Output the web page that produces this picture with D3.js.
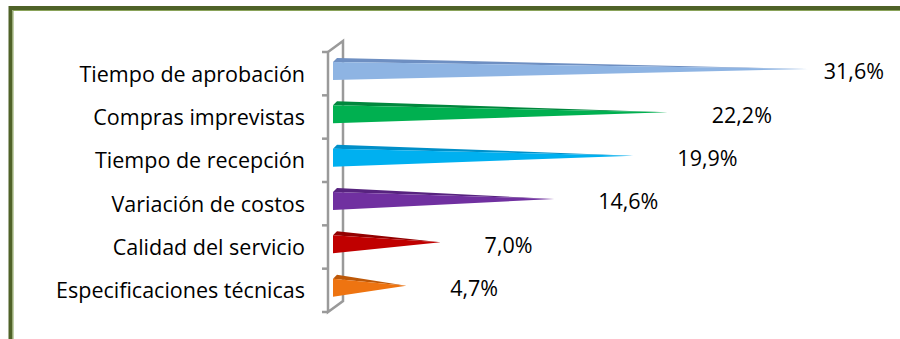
<!DOCTYPE html>
<html>
<head>
<meta charset="utf-8">
<script src="https://cdn.jsdelivr.net/npm/d3@7"></script>
<style>
  html, body { margin: 0; padding: 0; background: #fff; }
  svg { display: block; }
  text { font-family: "Open Sans", "Noto Sans", sans-serif; fill: #000; }
</style>
</head>
<body>
<svg id="chart" width="900" height="339"></svg>
<script>
// Categories, top to bottom
const categories = [
  "Tiempo de aprobación",
  "Compras imprevistas",
  "Tiempo de recepción",
  "Variación de costos",
  "Calidad del servicio",
  "Especificaciones técnicas"
];
// Share of each cause, in percent
const values = [31.6, 22.2, 19.9, 14.6, 7.0, 4.7];

// Palette: front face and darker top face of each pyramid
const frontColors = ["#8eb4e3", "#00b050", "#00b0f0", "#7030a0", "#c00000", "#ee7411"];
const topColors   = ["#6e8fc2", "#00873d", "#008fc8", "#57237f", "#930000", "#bd5808"];

const svg = d3.select("#chart");
const fontSize = 21.5;

// Outer frame (only left and top edges fall inside the view)
svg.append("rect").attr("x", 10.5).attr("y", 8).attr("width", 900).attr("height", 400)
  .attr("fill", "none").attr("stroke", "#4f6228").attr("stroke-width", 4);
svg.append("path").attr("d", "M13,339 V10.5 H900")
  .attr("fill", "none").attr("stroke", "#8aa35a").attr("stroke-width", 1);

// Scales
const y = d3.scaleBand().domain(categories).range([52, 312]).padding(0);
const x = d3.scaleLinear().domain([0, 35]).range([336, 859]);

// Depth offset of the 3D wall
const wallDx = 15, wallDy = -11;
const frontX = 328;
const axisColor = "#9a9a9a";

// Back and front edges of the side wall
const g = svg.append("g");
const yTop = y.range()[0], yBot = y.range()[1];
g.append("path")
  .attr("d", `M${frontX},${yTop} L${frontX + wallDx},${yTop + wallDy} V${yBot + wallDy} L${frontX},${yBot} Z`)
  .attr("fill", "none").attr("stroke", axisColor).attr("stroke-width", 2.5)
  .attr("stroke-linejoin", "miter");

// Ticks at category boundaries
const tickPos = categories.map(c => y(c)).concat([yBot]);
g.selectAll("line.tick").data(tickPos).enter().append("line")
  .attr("class", "tick")
  .attr("x1", frontX - 6).attr("x2", frontX)
  .attr("y1", d => d).attr("y2", d => d)
  .attr("stroke", axisColor).attr("stroke-width", 2.5);

// Category labels
svg.selectAll("text.cat").data(categories).enter().append("text")
  .attr("class", "cat")
  .attr("x", 305)
  .attr("y", d => y(d) + y.bandwidth() / 2 + 8)
  .attr("text-anchor", "end")
  .attr("font-size", fontSize)
  .text(d => d);

// Pyramids: front triangle plus thin top triangle
const data = categories.map((c, i) => ({ c, v: values[i], i }));
const baseX = 333, faceTop = 10, faceH = 18, dep = 4;

const bars = svg.selectAll("g.bar").data(data).enter().append("g").attr("class", "bar");
bars.append("path")
  .attr("d", d => {
    const t = y(d.c) + faceTop;
    const ax = x(d.v), ay = t + faceH / 2 - 2;
    return `M${baseX},${t} L${baseX + dep},${t - dep} L${ax},${ay} Z`;
  })
  .attr("fill", d => topColors[d.i]);
bars.append("path")
  .attr("d", d => {
    const t = y(d.c) + faceTop, b = t + faceH;
    const ax = x(d.v), ay = t + faceH / 2 - 2;
    return `M${baseX},${t} L${baseX},${b} L${ax},${ay} Z`;
  })
  .attr("fill", d => frontColors[d.i]);

// Value labels
const fmt = d3.formatLocale({ decimal: ",", thousands: ".", grouping: [3], currency: ["", ""] }).format(".1f");
svg.selectAll("text.val").data(data).enter().append("text")
  .attr("class", "val")
  .attr("font-size", fontSize)
  .attr("y", d => y(d.c) + y.bandwidth() / 2 + 5.5)
  .text(d => fmt(d.v) + "%")
  .each(function (d) {
    const w = this.getComputedTextLength();
    const start = Math.min(x(d.v) + 44, 884 - w);
    d3.select(this).attr("x", start);
  });
</script>
</body>
</html>
